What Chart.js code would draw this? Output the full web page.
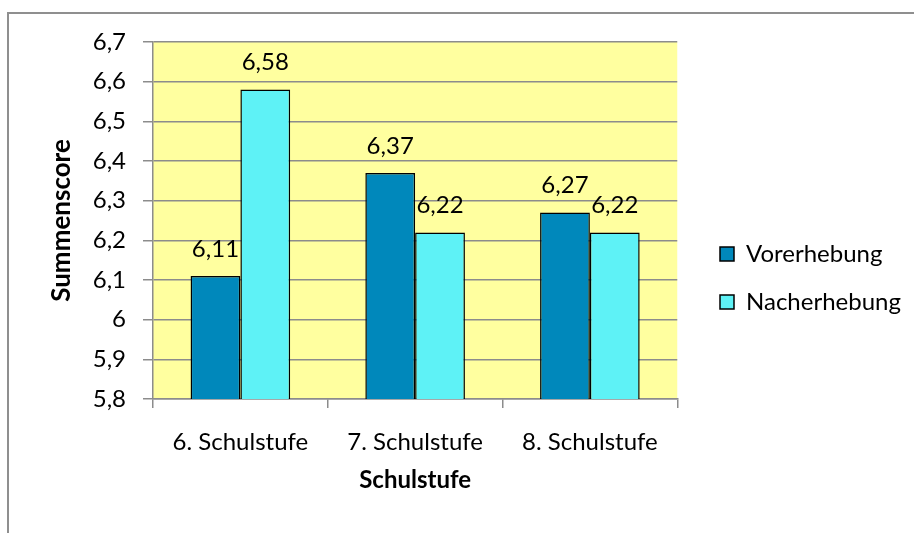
<!DOCTYPE html>
<html>
<head>
<meta charset="utf-8">
<script src="https://cdn.jsdelivr.net/npm/chart.js@4"></script>
<style>
    html, body { margin: 0; padding: 0; background: #fff; }
    #wrap { width: 914px; height: 533px; }
</style>
</head>
<body>
<div id="wrap"><canvas id="chart" width="914" height="533"></canvas></div>
<script>
const categories = ['6. Schulstufe', '7. Schulstufe', '8. Schulstufe'];
const vorerhebung = [6.11, 6.37, 6.27];
const nacherhebung = [6.58, 6.22, 6.22];
const yMin = 5.8;
const yMax = 6.7;
const yStep = 0.1;

const FONT = 'Lato';

function formatDe(v, digits) {
    return Number(v.toFixed(digits)).toString().replace('.', ',');
}

// yellow plot area + grey outer frame
const backgroundPlugin = {
    id: 'background',
    beforeDraw(chart) {
        const { ctx, chartArea } = chart;
        ctx.save();
        ctx.fillStyle = '#FFFF9F';
        ctx.fillRect(chartArea.left, chartArea.top, chartArea.right - chartArea.left, chartArea.bottom - chartArea.top);
        ctx.strokeStyle = '#8f8f8f';
        ctx.lineWidth = 2;
        ctx.strokeRect(8, 13, 2000, 2000);
        ctx.restore();
    }
};

// move the legend to where the original has it
const legendPlacePlugin = {
    id: 'legendPlace',
    afterLayout(chart) {
        const lg = chart.legend;
        if (!lg) return;
        lg.left = 696;
        lg.right = 914;
        lg.top = 218;
        lg.bottom = 338;
    }
};

// value labels above bars
const valueLabelPlugin = {
    id: 'valueLabels',
    afterDatasetsDraw(chart) {
        const { ctx } = chart;
        ctx.save();
        ctx.font = '24px ' + FONT;
        ctx.fillStyle = '#000';
        ctx.textAlign = 'center';
        ctx.textBaseline = 'middle';
        chart.data.datasets.forEach((ds, i) => {
            const meta = chart.getDatasetMeta(i);
            meta.data.forEach((bar, j) => {
                ctx.fillText(formatDe(ds.data[j], 2), bar.x, bar.y - 27);
            });
        });
        ctx.restore();
    }
};

const ctx = document.getElementById('chart').getContext('2d');

const chart = new Chart(ctx, {
    type: 'bar',
    data: {
        labels: categories,
        datasets: [
            {
                label: 'Vorerhebung',
                data: vorerhebung,
                backgroundColor: '#0088BB',
                borderColor: '#000',
                borderWidth: 1.5,
                borderSkipped: 'bottom'
            },
            {
                label: 'Nacherhebung',
                data: nacherhebung,
                backgroundColor: '#5EF2F6',
                borderColor: '#000',
                borderWidth: 1.5,
                borderSkipped: 'bottom'
            }
        ]
    },
    options: {
        responsive: false,
        animation: false,
        layout: {
            padding: { left: 42, top: 42, right: 25, bottom: 34 }
        },
        datasets: {
            bar: { categoryPercentage: 0.57, barPercentage: 1.0 }
        },
        scales: {
            x: {
                grid: {
                    display: true,
                    drawOnChartArea: false,
                    drawTicks: true,
                    tickLength: 9,
                    color: '#8c8c8c',
                    lineWidth: 1.5
                },
                border: { color: '#8c8c8c', width: 1.5 },
                ticks: {
                    color: '#000',
                    font: { family: FONT, size: 24 },
                    padding: 20,
                    maxRotation: 0
                },
                title: {
                    display: true,
                    text: 'Schulstufe',
                    color: '#000',
                    font: { family: FONT, size: 24, weight: 'bold' },
                    padding: { top: 4, bottom: 4 }
                },
                afterFit(scale) { scale.height = 100; }
            },
            y: {
                min: yMin,
                max: yMax,
                grid: {
                    color: '#8c8c8c',
                    lineWidth: 1.5,
                    tickLength: 10
                },
                border: { color: '#8c8c8c', width: 1.5 },
                ticks: {
                    stepSize: yStep,
                    color: '#000',
                    font: { family: FONT, size: 24 },
                    padding: 17,
                    callback: (v) => formatDe(v, 1)
                },
                title: {
                    display: true,
                    text: 'Summenscore',
                    color: '#000',
                    font: { family: FONT, size: 26, weight: 'bold' },
                    padding: { top: 4, bottom: 4 }
                },
                afterFit(scale) { scale.width = 111; }
            }
        },
        plugins: {
            legend: {
                position: 'right',
                labels: {
                    boxWidth: 14,
                    boxHeight: 14,
                    padding: 24,
                    color: '#000',
                    font: { family: FONT, size: 24 }
                }
            },
            tooltip: { enabled: false }
        }
    },
    plugins: [backgroundPlugin, legendPlacePlugin, valueLabelPlugin]
});
</script>
</body>
</html>
